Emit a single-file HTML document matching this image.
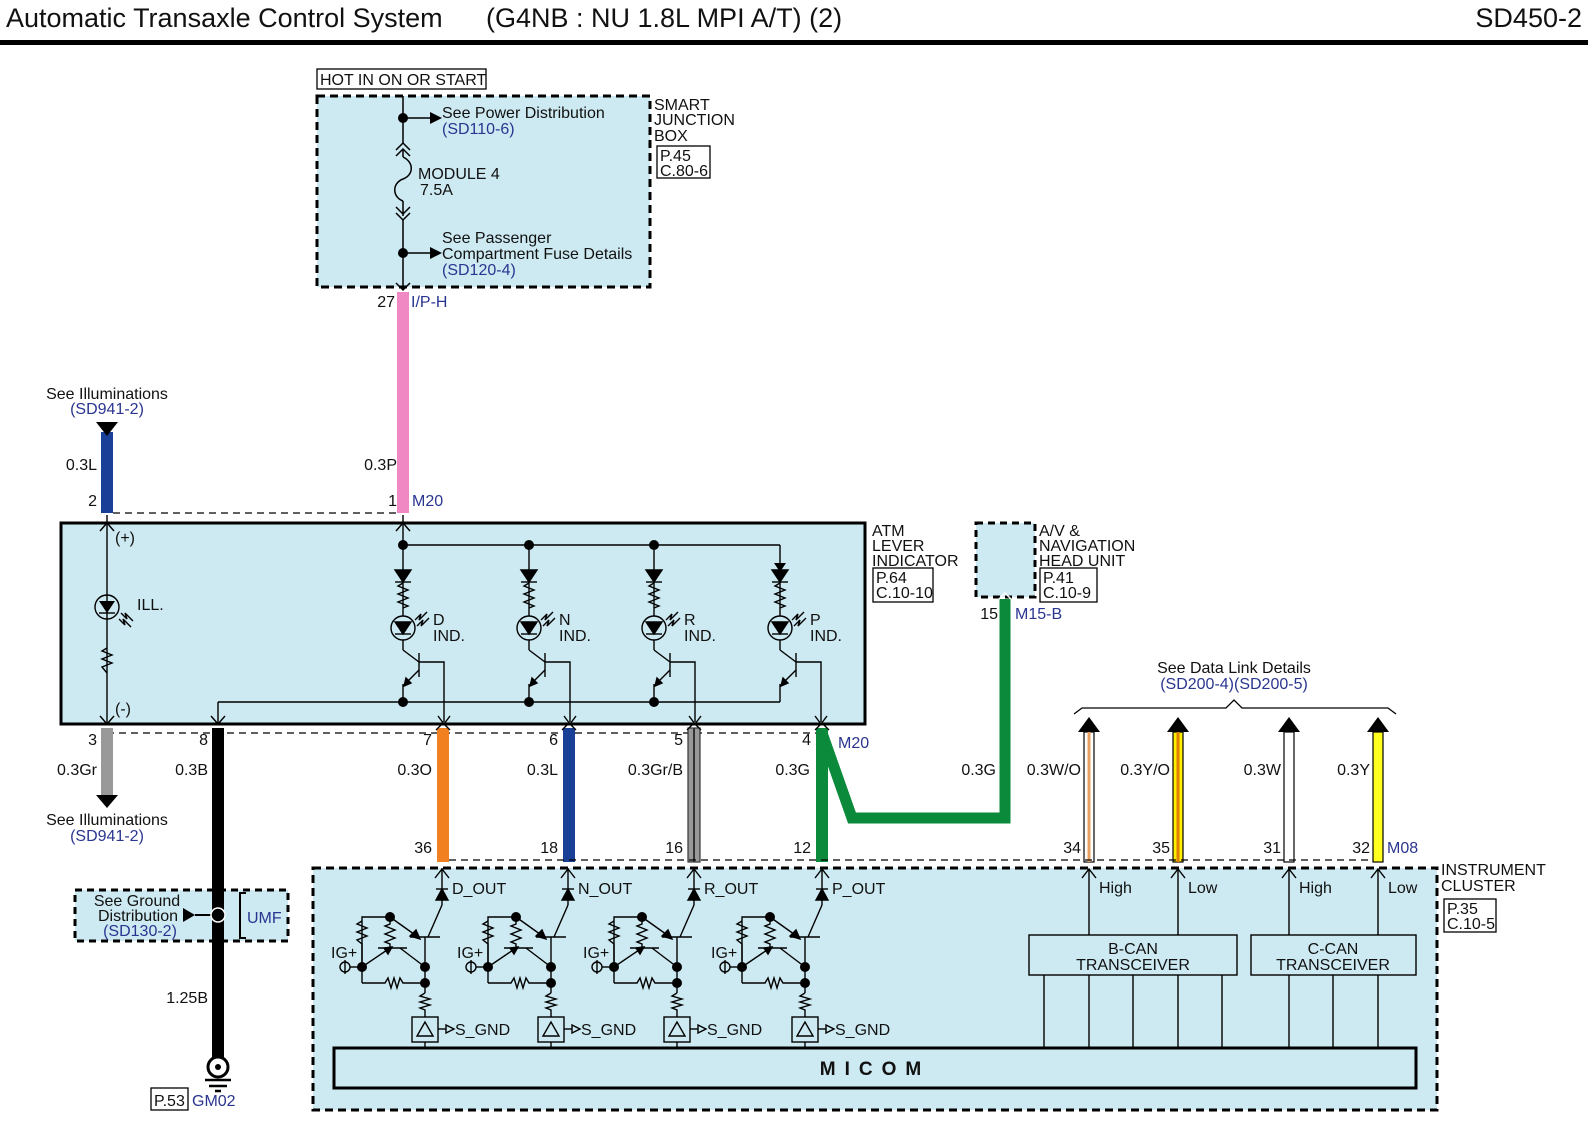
<!DOCTYPE html>
<html><head><meta charset="utf-8"><style>
html,body{margin:0;padding:0;background:#fff;}
svg{display:block;font-family:"Liberation Sans",Arial,sans-serif;}
.t{font-size:16px;fill:#111;transform:translateY(3px);}
.b{font-size:16px;fill:#2a3590;transform:translateY(3px);}
.r{text-anchor:end;}
.c{text-anchor:middle;}
</style></head><body>
<svg width="1588" height="1126" viewBox="0 0 1588 1126" xmlns="http://www.w3.org/2000/svg">
<defs>
<g id="ledcol" stroke="#000" stroke-width="1.4" fill="none">
  <line x1="0" y1="545" x2="0" y2="616"/>
  <polygon points="-8,570 8,570 0,582" fill="#000"/>
  <line x1="-8" y1="582" x2="8" y2="582"/>
  <polyline points="0,583 -5,586 5,590 -5,594 5,598 -5,602 5,606 0,608"/>
  <circle cx="0" cy="628" r="12"/>
  <polygon points="-8,622 8,622 0,634" fill="#000"/>
  <line x1="-8" y1="634" x2="8" y2="634"/>
  <polyline points="12,620 18,614 16,620 24,612"/>
  <polyline points="14,626 20,620 18,626 26,618"/>
  <line x1="0" y1="640" x2="0" y2="650"/>
  <line x1="0" y1="650" x2="16" y2="662"/>
  <line x1="16" y1="653" x2="16" y2="677"/>
  <polyline points="16,662 41,662 41,722"/>
  <line x1="16" y1="670" x2="2" y2="684"/>
  <polygon points="1,686 3,678 8,683" fill="#000"/>
  <line x1="0" y1="684" x2="0" y2="702"/>
  <polyline points="35,716 41,724 47,716"/>
</g>
<g id="outc" stroke="#000" stroke-width="1.4" fill="none">
  <line x1="442" y1="868" x2="442" y2="905"/>
  <polyline points="435,878 442,869 449,878"/>
  <polygon points="436,900 448,900 442,889" fill="#000"/>
  <line x1="436" y1="889" x2="448" y2="889"/>
  <line x1="442" y1="905" x2="428" y2="937"/>
  <line x1="410" y1="937" x2="440" y2="937"/>
  <line x1="390" y1="917" x2="418" y2="937"/>
  <polygon points="420,939 410,936 416,930" fill="#000"/>
  <line x1="425" y1="937" x2="425" y2="993"/>
  <polyline points="362,983 362,917 390,917"/>
  <polyline points="362,921 357,924 367,928 357,932 367,936 357,940 362,944 362,967"/>
  <polyline points="390,917 390,924 385,926 395,930 385,934 395,938 385,942 390,944 390,948"/>
  <line x1="378" y1="948" x2="407" y2="948"/>
  <line x1="362" y1="967" x2="390" y2="948"/>
  <polygon points="392,947 384,948 388,954" fill="#000"/>
  <line x1="400" y1="948" x2="425" y2="967"/>
  <polyline points="362,983 385,983 388,978 391,988 394,978 397,988 400,978 403,983 425,983"/>
  <polyline points="425,993 420,996 430,999 420,1002 430,1005 420,1008 425,1010 425,1017"/>
  <line x1="362" y1="967" x2="350" y2="967"/>
  <circle cx="345" cy="967" r="5"/>
  <line x1="345" y1="960" x2="345" y2="974"/>
  <rect x="412" y="1017" width="26" height="25"/>
  <polygon points="425,1022 417,1036 433,1036"/>
  <line x1="425" y1="1042" x2="425" y2="1048"/>
  <line x1="438" y1="1029" x2="446" y2="1029"/>
  <polygon points="446,1025 454,1029 446,1033"/>
  <g fill="#000" stroke="none">
   <circle cx="390" cy="917" r="5"/><circle cx="362" cy="967" r="5"/>
   <circle cx="425" cy="967" r="5"/><circle cx="425" cy="983" r="5"/>
  </g>
</g>
</defs>

<!-- Header -->
<text x="6" y="27" style="font-size:27px" fill="#111">Automatic Transaxle Control System</text>
<text x="486" y="27" style="font-size:27px" fill="#111">(G4NB : NU 1.8L MPI A/T) (2)</text>
<text x="1582" y="27" style="font-size:27px" fill="#111" text-anchor="end">SD450-2</text>
<rect x="0" y="40" width="1588" height="5" fill="#000"/>

<!-- Smart junction box -->
<rect x="317" y="69" width="169" height="20" fill="#fff" stroke="#000" stroke-width="1.3"/>
<text class="t" x="320" y="82">HOT IN ON OR START</text>
<rect x="317" y="96" width="333" height="191" fill="#cde9f1" stroke="#000" stroke-width="3" stroke-dasharray="8,5"/>
<text class="t" x="654" y="107">SMART</text><text class="t" x="654" y="122">JUNCTION</text><text class="t" x="654" y="138">BOX</text>
<rect x="657" y="146" width="53" height="32" fill="#fff" stroke="#000" stroke-width="1.3"/>
<text class="t" x="660" y="158">P.45</text><text class="t" x="660" y="173">C.80-6</text>
<g stroke="#000" stroke-width="1.5" fill="none">
 <line x1="403" y1="96" x2="403" y2="143"/>
 <line x1="403" y1="118" x2="432" y2="118"/>
 <polyline points="396,150 403,143 410,150"/><polyline points="396,156 403,149 410,156"/>
 <line x1="403" y1="149" x2="403" y2="157"/>
 <path d="M403,157 C414,162 414,175 403,179 C392,183 392,197 403,201"/>
 <line x1="403" y1="201" x2="403" y2="216"/>
 <polyline points="396,207 403,214 410,207"/><polyline points="396,213 403,220 410,213"/>
 <line x1="403" y1="220" x2="403" y2="290"/>
 <line x1="403" y1="253" x2="432" y2="253"/>
 <polyline points="396,283 403,290 410,283"/>
</g>
<circle cx="403" cy="118" r="5"/><polygon points="430,112 442,118 430,124"/>
<circle cx="403" cy="253" r="5"/><polygon points="430,247 442,253 430,259"/>
<text class="t" x="442" y="115">See Power Distribution</text><text class="b" x="442" y="131">(SD110-6)</text>
<text class="t" x="418" y="176">MODULE 4</text><text class="t" x="420" y="192">7.5A</text>
<text class="t" x="442" y="240">See Passenger</text><text class="t" x="442" y="256">Compartment Fuse Details</text><text class="b" x="442" y="272">(SD120-4)</text>

<!-- pink wire -->
<rect x="397" y="292" width="12" height="221" fill="#f088c4"/>
<text class="t r" x="395" y="304">27</text><text class="b" x="411" y="304">I/P-H</text>
<text class="t r" x="397" y="467">0.3P</text>
<text class="t r" x="397" y="503">1</text><text class="b" x="412" y="503">M20</text>

<!-- blue top left -->
<rect x="101" y="432" width="12" height="81" fill="#1a3f96"/>
<polygon points="96,422 118,422 107,436" fill="#000"/>
<text class="t c" x="107" y="396">See Illuminations</text><text class="b c" x="107" y="411">(SD941-2)</text>
<text class="t r" x="97" y="467">0.3L</text><text class="t r" x="97" y="503">2</text>
<line x1="113" y1="513" x2="397" y2="513" stroke="#000" stroke-width="1.3" stroke-dasharray="7,5"/>

<!-- ATM box -->
<rect x="61" y="523" width="804" height="201" fill="#cde9f1" stroke="#000" stroke-width="3"/>
<text class="t" x="872" y="533">ATM</text><text class="t" x="872" y="548">LEVER</text><text class="t" x="872" y="563">INDICATOR</text>
<rect x="873" y="568" width="60" height="34" fill="#fff" stroke="#000" stroke-width="1.3"/>
<text class="t" x="876" y="580">P.64</text><text class="t" x="876" y="595">C.10-10</text>
<g stroke="#000" stroke-width="1.4" fill="none">
 <line x1="107" y1="515" x2="107" y2="724"/>
 <polyline points="100,531 107,523 114,531"/><polyline points="100,716 107,724 114,716"/>
 <circle cx="107" cy="607" r="12"/>
 <polyline points="121,613 127,619 125,613 133,621"/><polyline points="119,619 125,625 123,619 131,627"/>
 <line x1="99" y1="613" x2="115" y2="613"/>
 <polyline points="107,648 102,651 112,655 102,659 112,663 102,667 107,673"/>
 <line x1="403" y1="515" x2="403" y2="545"/>
 <polyline points="396,531 403,523 410,531"/>
 <line x1="403" y1="545" x2="780" y2="545"/>
 <line x1="218" y1="702" x2="780" y2="702"/>
 <line x1="218" y1="702" x2="218" y2="724"/>
 <polyline points="211,716 218,724 225,716"/>
</g>
<polygon points="99,601 115,601 107,613" fill="#000"/>
<polygon points="774,563 786,563 780,572" fill="#000"/>
<use href="#ledcol" x="403"/><use href="#ledcol" x="529"/><use href="#ledcol" x="654"/><use href="#ledcol" x="780"/>
<g fill="#000"><circle cx="403" cy="545" r="5"/><circle cx="529" cy="545" r="5"/><circle cx="654" cy="545" r="5"/>
<circle cx="403" cy="702" r="5"/><circle cx="529" cy="702" r="5"/><circle cx="654" cy="702" r="5"/></g>
<text class="t" x="137" y="607">ILL.</text><text class="t" x="115" y="540">(+)</text><text class="t" x="115" y="711">(-)</text>
<text class="t" x="433" y="622">D</text><text class="t" x="433" y="638">IND.</text>
<text class="t" x="559" y="622">N</text><text class="t" x="559" y="638">IND.</text>
<text class="t" x="684" y="622">R</text><text class="t" x="684" y="638">IND.</text>
<text class="t" x="810" y="622">P</text><text class="t" x="810" y="638">IND.</text>

<!-- AV head unit -->
<rect x="976" y="523" width="59" height="74" fill="#cde9f1" stroke="#000" stroke-width="3" stroke-dasharray="7,5"/>
<text class="t" x="1039" y="533">A/V &amp;</text><text class="t" x="1039" y="548">NAVIGATION</text><text class="t" x="1039" y="563">HEAD UNIT</text>
<rect x="1040" y="568" width="57" height="34" fill="#fff" stroke="#000" stroke-width="1.3"/>
<text class="t" x="1043" y="580">P.41</text><text class="t" x="1043" y="595">C.10-9</text>
<text class="t r" x="998" y="616">15</text><text class="b" x="1015" y="616">M15-B</text>

<!-- bottom wires of ATM -->
<line x1="107" y1="733" x2="822" y2="733" stroke="#000" stroke-width="1.3" stroke-dasharray="7,5"/>
<rect x="101" y="728" width="12" height="67" fill="#999"/>
<polygon points="96,795 118,795 107,808" fill="#000"/>
<text class="t c" x="107" y="822">See Illuminations</text><text class="b c" x="107" y="838">(SD941-2)</text>
<text class="t r" x="97" y="742">3</text><text class="t r" x="97" y="772">0.3Gr</text>
<rect x="212" y="728" width="12" height="332" fill="#000"/>
<text class="t r" x="208" y="742">8</text><text class="t r" x="208" y="772">0.3B</text>
<rect x="437" y="728" width="12" height="134" fill="#f08020"/>
<text class="t r" x="432" y="742">7</text><text class="t r" x="432" y="772">0.3O</text><text class="t r" x="432" y="850">36</text>
<rect x="563" y="728" width="12" height="134" fill="#1a3f96"/>
<text class="t r" x="558" y="742">6</text><text class="t r" x="558" y="772">0.3L</text><text class="t r" x="558" y="850">18</text>
<rect x="688" y="728" width="12" height="134" fill="#999" stroke="#333" stroke-width="1.2"/>
<line x1="694" y1="728" x2="694" y2="862" stroke="#333" stroke-width="2"/>
<text class="t r" x="683" y="742">5</text><text class="t r" x="683" y="772">0.3Gr/B</text><text class="t r" x="683" y="850">16</text>
<rect x="816" y="728" width="12" height="134" fill="#0a8a3a"/>
<polyline points="822,733 852,818 1005,818 1005,599" fill="none" stroke="#0a8a3a" stroke-width="11" stroke-linejoin="miter"/>
<text class="t r" x="811" y="742">4</text><text class="b" x="838" y="745">M20</text>
<text class="t r" x="810" y="772">0.3G</text><text class="t r" x="996" y="772">0.3G</text><text class="t r" x="811" y="850">12</text>
<g stroke="#000" stroke-width="1.4" fill="none">
 <polyline points="436,730 443,723 450,730"/><polyline points="562,730 569,723 576,730"/>
 <polyline points="687,730 694,723 701,730"/><polyline points="815,730 822,723 829,730"/>
 <polyline points="998,600 1005,593 1012,600" stroke="#fff"/>
</g>

<!-- Data link -->
<text class="t c" x="1234" y="670">See Data Link Details</text><text class="b c" x="1234" y="686">(SD200-4)(SD200-5)</text>
<polyline points="1074,714 1082,708 1226,708 1234,700 1242,708 1388,708 1396,714" fill="none" stroke="#000" stroke-width="1.3"/>
<g stroke="#000" stroke-width="1.2">
 <rect x="1084" y="732" width="10" height="130" fill="#fff"/><line x1="1089" y1="732" x2="1089" y2="862" stroke="#e8a060" stroke-width="3"/>
 <rect x="1173" y="732" width="10" height="130" fill="#ffee00"/><line x1="1178" y1="732" x2="1178" y2="862" stroke="#e08000" stroke-width="3"/>
 <rect x="1284" y="732" width="10" height="130" fill="#fff"/>
 <rect x="1373" y="732" width="10" height="130" fill="#ffff20"/>
</g>
<g fill="#000"><polygon points="1078,732 1100,732 1089,717"/><polygon points="1167,732 1189,732 1178,717"/>
<polygon points="1278,732 1300,732 1289,717"/><polygon points="1367,732 1389,732 1378,717"/></g>
<text class="t r" x="1081" y="772">0.3W/O</text><text class="t r" x="1170" y="772">0.3Y/O</text>
<text class="t r" x="1281" y="772">0.3W</text><text class="t r" x="1370" y="772">0.3Y</text>
<text class="t r" x="1081" y="850">34</text><text class="t r" x="1170" y="850">35</text>
<text class="t r" x="1281" y="850">31</text><text class="t r" x="1370" y="850">32</text><text class="b" x="1387" y="850">M08</text>

<!-- Instrument cluster -->
<line x1="449" y1="860" x2="1373" y2="860" stroke="#000" stroke-width="1.3" stroke-dasharray="7,5"/>
<rect x="313" y="868" width="1124" height="242" fill="#cde9f1" stroke="#000" stroke-width="3" stroke-dasharray="8,5"/>
<text class="t" x="1441" y="872">INSTRUMENT</text><text class="t" x="1441" y="888">CLUSTER</text>
<rect x="1444" y="899" width="52" height="33" fill="#fff" stroke="#000" stroke-width="1.3"/>
<text class="t" x="1447" y="911">P.35</text><text class="t" x="1447" y="926">C.10-5</text>
<use href="#outc" x="0"/><use href="#outc" x="126"/><use href="#outc" x="252"/><use href="#outc" x="380"/>
<text class="t" x="452" y="891">D_OUT</text><text class="t" x="578" y="891">N_OUT</text>
<text class="t" x="704" y="891">R_OUT</text><text class="t" x="832" y="891">P_OUT</text>
<text class="t" x="455" y="1032">S_GND</text><text class="t" x="581" y="1032">S_GND</text>
<text class="t" x="707" y="1032">S_GND</text><text class="t" x="835" y="1032">S_GND</text>
<text class="t" x="331" y="955">IG+</text><text class="t" x="457" y="955">IG+</text>
<text class="t" x="583" y="955">IG+</text><text class="t" x="711" y="955">IG+</text>
<g stroke="#000" stroke-width="1.4" fill="none">
 <line x1="1089" y1="869" x2="1089" y2="935"/><polyline points="1082,878 1089,869 1096,878"/>
 <line x1="1178" y1="869" x2="1178" y2="935"/><polyline points="1171,878 1178,869 1185,878"/>
 <line x1="1289" y1="869" x2="1289" y2="935"/><polyline points="1282,878 1289,869 1296,878"/>
 <line x1="1378" y1="869" x2="1378" y2="935"/><polyline points="1371,878 1378,869 1385,878"/>
 <rect x="1029" y="935" width="208" height="40"/><rect x="1251" y="935" width="165" height="40"/>
 <line x1="1044" y1="975" x2="1044" y2="1048"/><line x1="1089" y1="975" x2="1089" y2="1048"/>
 <line x1="1133" y1="975" x2="1133" y2="1048"/><line x1="1178" y1="975" x2="1178" y2="1048"/>
 <line x1="1222" y1="975" x2="1222" y2="1048"/><line x1="1289" y1="975" x2="1289" y2="1048"/>
 <line x1="1333" y1="975" x2="1333" y2="1048"/><line x1="1378" y1="975" x2="1378" y2="1048"/>
</g>
<text class="t" x="1099" y="890">High</text><text class="t" x="1188" y="890">Low</text>
<text class="t" x="1299" y="890">High</text><text class="t" x="1388" y="890">Low</text>
<text class="t c" x="1133" y="951">B-CAN</text><text class="t c" x="1133" y="967">TRANSCEIVER</text>
<text class="t c" x="1333" y="951">C-CAN</text><text class="t c" x="1333" y="967">TRANSCEIVER</text>
<rect x="334" y="1048" width="1082" height="40" fill="#cde9f1" stroke="#000" stroke-width="3"/>
<text x="875" y="1075" text-anchor="middle" style="font-size:19px;letter-spacing:9px;font-weight:bold" fill="#111">MICOM</text>

<!-- Ground -->
<rect x="75" y="890" width="213" height="51" fill="#cde9f1" stroke="#000" stroke-width="3" stroke-dasharray="7,5"/>
<rect x="212" y="880" width="12" height="180" fill="#000"/>
<polyline points="246,893 240,893 240,938 246,938" fill="none" stroke="#000" stroke-width="2"/>
<text class="b" x="247" y="920">UMF</text>
<text class="t c" x="137" y="903">See Ground</text><text class="t r" x="178" y="918">Distribution</text><text class="b c" x="140" y="933">(SD130-2)</text>
<polygon points="183,908 195,915 183,922" fill="#000"/><line x1="195" y1="915" x2="212" y2="915" stroke="#000" stroke-width="2"/>
<circle cx="218" cy="915" r="7" fill="#000" stroke="#fff" stroke-width="1.5"/>
<text class="t r" x="208" y="1000">1.25B</text>
<circle cx="218" cy="1067" r="10" fill="#fff" stroke="#000" stroke-width="3"/>
<circle cx="218" cy="1067" r="3" fill="#000"/>
<line x1="205" y1="1080" x2="231" y2="1080" stroke="#000" stroke-width="2.5"/>
<line x1="209" y1="1086" x2="227" y2="1086" stroke="#000" stroke-width="2.5"/>
<line x1="215" y1="1091" x2="221" y2="1091" stroke="#000" stroke-width="2.5"/>
<rect x="151" y="1088" width="37" height="22" fill="#fff" stroke="#000" stroke-width="1.3"/>
<text class="t" x="154" y="1103">P.53</text><text class="b" x="192" y="1103">GM02</text>
</svg>
</body></html>
